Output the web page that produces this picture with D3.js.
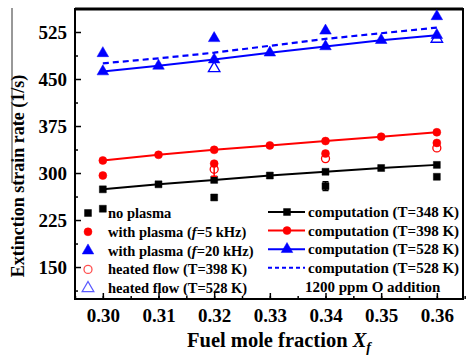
<!DOCTYPE html>
<html>
<head>
<meta charset="utf-8">
<script src="https://cdn.jsdelivr.net/npm/d3@7"></script>
<style>
  body { margin: 0; background: #fff; }
  text { font-family: "Liberation Serif", "Times New Roman", serif; font-weight: bold; }
</style>
</head>
<body>
<div id="chart"></div>
<script>
// fuel mole fractions used by the computations
var fractions = [0.30, 0.31, 0.32, 0.33, 0.34, 0.35, 0.36];
var comp348 = [274, 282, 289, 296, 302, 308, 313];
var comp398 = [320, 329, 337, 344, 351, 358, 365];
var comp528 = [462, 471, 481, 492, 502, 512, 520];
var comp528O = [475, 483, 492, 503, 514, 523, 532];

// experiments: [x, value, error]
var noPlasma = [[0.30, 243, 0], [0.32, 261, 0], [0.34, 279, 7], [0.36, 294, 0]];
var plasma5 = [[0.30, 296, 0], [0.32, 315, 3], [0.34, 331, 0], [0.36, 348, 0]];
var plasma20 = [[0.30, 491, 0], [0.32, 515, 0], [0.34, 527, 0], [0.36, 550, 0]];
var heated398 = [[0.32, 306, 11], [0.34, 323, 0], [0.36, 340, 0]];
var heated528 = [[0.32, 467, 0], [0.36, 514, 0]];

var xTicks = [0.30, 0.31, 0.32, 0.33, 0.34, 0.35, 0.36];
var yTicks = [150, 225, 300, 375, 450, 525];

var W = 471, H = 356;
var pl = 75, pr = 463, pt = 9, pb = 299;

var svg = d3.select('#chart').append('svg')
  .attr('width', W).attr('height', H);

var x = d3.scaleLinear().domain([0.295, 0.3647]).range([pl, pr]);
var y = d3.scaleLinear().domain([99, 561.7]).range([pb, pt]);

var BLACK = '#000', RED = '#ff0000', BLUE = '#0000ff';

// axes (ticks inward)
var xMinor = d3.range(0.295, 0.366, 0.005);
var yMinor = d3.range(112.5, 562, 75);

svg.append('g').attr('transform', 'translate(0,' + pb + ')')
  .call(d3.axisBottom(x).tickValues(xMinor).tickSize(-3).tickFormat(''))
  .call(function(g) { g.select('.domain').remove(); })
  .selectAll('line').attr('stroke-width', 1.5);

svg.append('g').attr('transform', 'translate(0,' + pb + ')')
  .call(d3.axisBottom(x).tickValues(xTicks).tickSize(-6).tickFormat(d3.format('.2f')))
  .call(function(g) {
    g.select('.domain').remove();
    g.attr('font-family', null).attr('font-size', null);
    g.selectAll('line').attr('stroke-width', 1.5);
    g.selectAll('text').attr('y', 23).attr('dy', null).style('font-size', '19px');
  });

svg.append('g').attr('transform', 'translate(' + pl + ',0)')
  .call(d3.axisLeft(y).tickValues(yMinor).tickSize(-3).tickFormat(''))
  .call(function(g) { g.select('.domain').remove(); })
  .selectAll('line').attr('stroke-width', 1.5);

svg.append('g').attr('transform', 'translate(' + pl + ',0)')
  .call(d3.axisLeft(y).tickValues(yTicks).tickSize(-6).tickPadding(8))
  .call(function(g) {
    g.select('.domain').remove();
    g.attr('font-family', null).attr('font-size', null);
    g.selectAll('line').attr('stroke-width', 1.5);
    g.selectAll('text').style('font-size', '19px');
  });

// frame
svg.append('rect')
  .attr('x', pl).attr('y', pt)
  .attr('width', pr - pl).attr('height', pb - pt)
  .attr('fill', 'none').attr('stroke', '#000').attr('stroke-width', 2);
svg.append('line')
  .attr('x1', pl).attr('x2', pr).attr('y1', pt).attr('y2', pt)
  .attr('stroke', '#000').attr('stroke-width', 3);

// axis titles
svg.append('text')
  .attr('transform', 'translate(24,176) rotate(-90)')
  .attr('text-anchor', 'middle')
  .style('font-size', '18px')
  .text('Extinction strain rate (1/s)');
svg.append('line')
  .attr('x1', 12).attr('x2', 12).attr('y1', 8).attr('y2', 183)
  .attr('stroke', '#333').attr('stroke-width', 1);

var xt = svg.append('text')
  .attr('x', 187).attr('y', 347)
  .style('font-size', '20.5px');
xt.append('tspan').text('Fuel mole fraction ');
xt.append('tspan').style('font-style', 'italic').text('X');
xt.append('tspan').style('font-style', 'italic').style('font-size', '14px')
  .attr('dy', 5).text('f');

// markers
var sym = {
  square: d3.symbol().type(d3.symbolSquare).size(48),
  circle: d3.symbol().type(d3.symbolCircle).size(50),
  triangle: d3.symbol().type(d3.symbolTriangle).size(58)
};

var drawMark = function(g, kind, color, open) {
  g.append('path')
    .attr('d', sym[kind]())
    .attr('fill', open ? 'none' : color)
    .attr('stroke', color)
    .attr('stroke-width', open ? 1.3 : 0.5);
};

// computation lines
var line = d3.line()
  .x(function(d) { return x(d[0]); })
  .y(function(d) { return y(d[1]); });

var zip = function(vals) {
  return fractions.map(function(f, i) { return [f, vals[i]]; });
};

svg.append('path').datum(zip(comp528O))
  .attr('d', line).attr('fill', 'none')
  .attr('stroke', BLUE).attr('stroke-width', 2.2).attr('stroke-dasharray', '6,4');

var comps = [
  {vals: comp348, color: BLACK, kind: 'square'},
  {vals: comp398, color: RED, kind: 'circle'},
  {vals: comp528, color: BLUE, kind: 'triangle'}
];
comps.forEach(function(c) {
  svg.append('path').datum(zip(c.vals))
    .attr('d', line).attr('fill', 'none')
    .attr('stroke', c.color).attr('stroke-width', 2);
  svg.append('g').selectAll('g').data(zip(c.vals)).enter()
    .append('g')
    .attr('transform', function(d) { return 'translate(' + x(d[0]) + ',' + y(d[1]) + ')'; })
    .each(function() { drawMark(d3.select(this), c.kind, c.color, false); });
});

// experiments
var exps = [
  {data: heated528, color: BLUE, kind: 'triangle', open: true},
  {data: heated398, color: RED, kind: 'circle', open: true},
  {data: noPlasma, color: BLACK, kind: 'square', open: false},
  {data: plasma5, color: RED, kind: 'circle', open: false},
  {data: plasma20, color: BLUE, kind: 'triangle', open: false}
];
exps.forEach(function(e) {
  var g = svg.append('g');
  var err = e.data.filter(function(d) { return d[2] > 0; });
  g.selectAll('.eb').data(err).enter().append('path')
    .attr('class', 'eb')
    .attr('d', function(d) {
      var cx = x(d[0]), y1 = y(d[1] + d[2]), y2 = y(d[1] - d[2]);
      return 'M' + (cx - 3) + ',' + y1 + 'H' + (cx + 3) +
        'M' + cx + ',' + y1 + 'V' + y2 +
        'M' + (cx - 3) + ',' + y2 + 'H' + (cx + 3);
    })
    .attr('fill', 'none').attr('stroke', e.color).attr('stroke-width', 1.5);
  g.selectAll('.mk').data(e.data).enter()
    .append('g').attr('class', 'mk')
    .attr('transform', function(d) { return 'translate(' + x(d[0]) + ',' + y(d[1]) + ')'; })
    .each(function() { drawMark(d3.select(this), e.kind, e.color, e.open); });
});

// left legend
var legLeft = [
  {kind: 'square', color: BLACK, open: false, parts: [['no plasma', false]]},
  {kind: 'circle', color: RED, open: false, parts: [['with plasma (', false], ['f', true], ['=5 kHz)', false]]},
  {kind: 'triangle', color: BLUE, open: false, parts: [['with plasma (', false], ['f', true], ['=20 kHz)', false]]},
  {kind: 'circle', color: '#ff5050', open: true, parts: [['heated flow (T=398 K)', false]]},
  {kind: 'triangle', color: '#5a5aff', open: true, parts: [['heated flow (T=528 K)', false]]}
];
legLeft.forEach(function(d, i) {
  var ly = 213 + i * 18.8;
  var g = svg.append('g').attr('transform', 'translate(88,' + ly + ')');
  drawMark(g, d.kind, d.color, d.open);
  var t = svg.append('text').attr('x', 108).attr('y', ly + 5).style('font-size', '14.5px');
  d.parts.forEach(function(p) {
    t.append('tspan').style('font-style', p[1] ? 'italic' : null).text(p[0]);
  });
});

// right legend
var legRight = [
  {kind: 'square', color: BLACK, dash: null, label: 'computation (T=348 K)'},
  {kind: 'circle', color: RED, dash: null, label: 'computation (T=398 K)'},
  {kind: 'triangle', color: BLUE, dash: null, label: 'computation (T=528 K)'},
  {kind: null, color: BLUE, dash: '4,3', label: 'computation (T=528 K)'}
];
legRight.forEach(function(d, i) {
  var ly = 212 + i * 18.6;
  svg.append('line')
    .attr('x1', 268).attr('x2', 305).attr('y1', ly).attr('y2', ly)
    .attr('stroke', d.color).attr('stroke-width', 2)
    .attr('stroke-dasharray', d.dash);
  if (d.kind) {
    drawMark(svg.append('g').attr('transform', 'translate(287,' + ly + ')'), d.kind, d.color, false);
  }
  svg.append('text').attr('x', 308).attr('y', ly + 5)
    .style('font-size', '15px').text(d.label);
});
svg.append('text').attr('x', 305).attr('y', 292)
  .style('font-size', '15px').text('1200 ppm O addition');
</script>
</body>
</html>
